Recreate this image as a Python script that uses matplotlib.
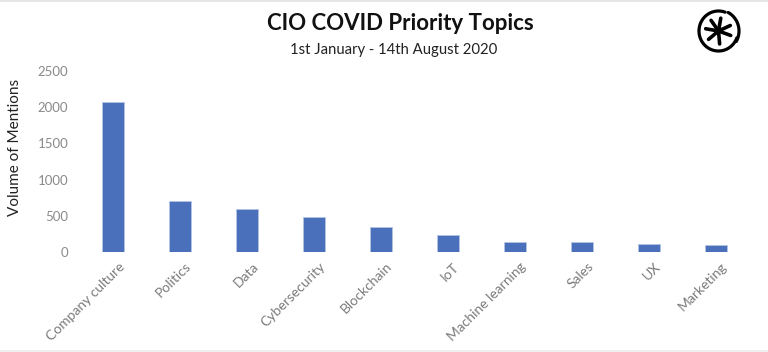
import numpy as np
import matplotlib
matplotlib.use('Agg')
import matplotlib.pyplot as plt
import matplotlib.transforms as mtrans
from matplotlib.patches import Rectangle

topics = ['Company culture', 'Politics', 'Data', 'Cybersecurity', 'Blockchain',
          'IoT', 'Machine learning', 'Sales', 'UX', 'Marketing']
mentions = [2070, 710, 590, 480, 340, 235, 145, 145, 105, 90]
y_ticks = [0, 500, 1000, 1500, 2000, 2500]

W, H = 768, 352
plt.rcParams['font.family'] = ['Lato', 'DejaVu Sans']

fig = plt.figure(figsize=(W / 100, H / 100), dpi=100, facecolor='white')

# bars
ax = fig.add_axes([79.5 / W, (H - 252) / H, 670 / W, 181 / H])
ax.bar(range(len(topics)), mentions, width=0.32, color='#4a70bb',
       edgecolor='#b4c4e4', linewidth=0.6)
ax.set_xlim(-0.5, len(topics) - 0.5)
ax.set_ylim(0, 2500)
ax.set_yticks(y_ticks)
ax.set_yticklabels(y_ticks, fontsize=9.5, color='#8a8a8a')
ax.set_xticks(range(len(topics)))
ax.set_xticklabels(topics, rotation=45, ha='right', rotation_mode='anchor',
                   fontsize=10, color='#7a7a7a')
ax.tick_params(length=0, axis='y', pad=8)
ax.tick_params(length=0, axis='x', pad=6)
# labels sit a little to the right of their bars
shift = mtrans.ScaledTranslation(5 / 100, 0, fig.dpi_scale_trans)
for lab in ax.get_xticklabels():
    lab.set_transform(lab.get_transform() + shift)
for s in ax.spines.values():
    s.set_visible(False)

# overlay in pixel coords for text, frame edges and logo
ov = fig.add_axes([0, 0, 1, 1], facecolor='none')
ov.set_xlim(0, W)
ov.set_ylim(H, 0)
ov.axis('off')

ov.add_patch(Rectangle((0, 0), W, 1.5, color='#e6e6e6', lw=0))
ov.add_patch(Rectangle((0, 350), W, 2, color='#f0f0f0', lw=0))

ov.text(400.5, 24, 'CIO COVID Priority Topics', ha='center', va='center',
        fontsize=16, fontweight='bold', color='#111111')
ov.text(394, 50, '1st January - 14th August 2020', ha='center', va='center',
        fontsize=10.7, color='#222222')
ov.text(15, 147, 'Volume of Mentions', rotation=90, ha='center', va='center',
        fontsize=11, color='#222222')

# logo: ring with a small notch at the upper right, asterisk inside
cx, cy = 718.5, 31
t = np.deg2rad(np.linspace(70, 340, 80))
ov.plot(cx + 19.5 * np.cos(t), cy - 20 * np.sin(t), color='black', lw=2.3,
        solid_capstyle='round')
t = np.deg2rad(np.linspace(62, -30, 40))
ov.plot(cx + 20.5 * np.cos(t), cy - 21 * np.sin(t), color='black', lw=2.3,
        solid_capstyle='round')
for a in np.deg2rad([80, 25, -20, -85, -140, 170, 125]):
    ov.plot([cx, cx + 13 * np.cos(a)], [cy, cy - 13 * np.sin(a)],
            color='black', lw=2.6, solid_capstyle='round')

fig.savefig('out.png', dpi=100)
